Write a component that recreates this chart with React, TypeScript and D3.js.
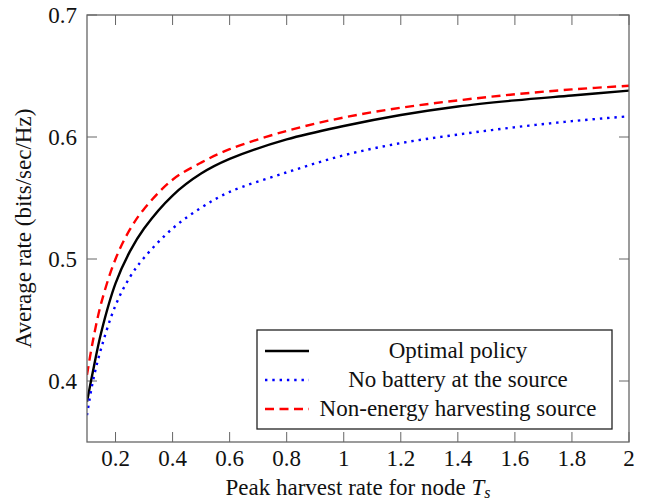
import React from 'react';
import * as d3 from 'd3';

const width = 646;
const height = 502;

const margin = { top: 15, right: 17, bottom: 60, left: 87 };

// x values (peak harvest rate T_s)
const xs = [0.1, 0.12, 0.15, 0.2, 0.25, 0.3, 0.4, 0.5, 0.6, 0.8, 1.0, 1.2, 1.4, 1.6, 1.8, 2.0];

// average rate for each policy
const optimal = [0.383, 0.407, 0.44, 0.48, 0.506, 0.525, 0.552, 0.570, 0.582, 0.598, 0.609, 0.618, 0.625, 0.630, 0.634, 0.638];
const noBattery = [0.372, 0.399, 0.427, 0.462, 0.485, 0.501, 0.525, 0.542, 0.555, 0.571, 0.585, 0.595, 0.602, 0.608, 0.613, 0.617];
const nonHarvest = [0.405, 0.432, 0.464, 0.5, 0.524, 0.541, 0.565, 0.579, 0.590, 0.605, 0.616, 0.624, 0.630, 0.635, 0.639, 0.642];

const xTicks = [0.2, 0.4, 0.6, 0.8, 1, 1.2, 1.4, 1.6, 1.8, 2];
const yTicks = [0.4, 0.5, 0.6, 0.7];

const seriesNames = ['Optimal policy', 'No battery at the source', 'Non-energy harvesting source'];

const font = "'Liberation Serif', 'DejaVu Serif', serif";

const App = () => {
  const x0 = margin.left;
  const x1 = width - margin.right;
  const y0 = height - margin.bottom;
  const y1 = margin.top;

  const xScale = d3.scaleLinear().domain([0.1, 2]).range([x0, x1]);
  const yScale = d3.scaleLinear().domain([0.35, 0.7]).range([y0, y1]);

  const line = d3
    .line<number>()
    .x((_, i) => xScale(xs[i]))
    .y(d => yScale(d))
    .curve(d3.curveCatmullRom.alpha(0.5));

  const series = [
    { name: seriesNames[0], values: optimal, color: '#000', dash: undefined, w: 2.4 },
    { name: seriesNames[1], values: noBattery, color: '#0000ff', dash: '2.4 4.9', w: 2.4 },
    { name: seriesNames[2], values: nonHarvest, color: '#ff0000', dash: '9 5.5', w: 2.4 }
  ];

  const tickLen = 10;
  const axisColor = '#666';

  // legend box
  const lg = { x: 257, y: 330, w: 355, h: 99 };
  const rowY = [351, 380, 409];

  const txt = { fontFamily: font, fill: '#111' };

  return (
    <svg
      width={width}
      height={height}
      style={{ position: 'absolute', left: 0, top: 0, background: '#fff', fontFamily: font }}
    >
      <defs>
        <clipPath id="plot">
          <rect x={x0} y={y1} width={x1 - x0} height={y0 - y1} />
        </clipPath>
      </defs>

      {/* ticks on all four sides, pointing in */}
      {xTicks.map(t => (
        <g key={'xt' + t} stroke={axisColor} strokeWidth={1}>
          <line x1={xScale(t)} x2={xScale(t)} y1={y0} y2={y0 - tickLen} />
          <line x1={xScale(t)} x2={xScale(t)} y1={y1} y2={y1 + tickLen} />
        </g>
      ))}
      {yTicks.map(t => (
        <g key={'yt' + t} stroke={axisColor} strokeWidth={1}>
          <line x1={x0} x2={x0 + tickLen} y1={yScale(t)} y2={yScale(t)} />
          <line x1={x1} x2={x1 - tickLen} y1={yScale(t)} y2={yScale(t)} />
        </g>
      ))}

      {/* curves */}
      <g clipPath="url(#plot)">
        {series.map(s => (
          <path
            key={s.name}
            d={line(s.values) || ''}
            fill="none"
            stroke={s.color}
            strokeWidth={s.w}
            strokeDasharray={s.dash}
          />
        ))}
      </g>

      {/* frame */}
      <rect x={x0} y={y1} width={x1 - x0} height={y0 - y1} fill="none" stroke={axisColor} strokeWidth={1.3} />

      {/* tick labels */}
      {xTicks.map(t => (
        <text key={'xl' + t} x={xScale(t)} y={466} textAnchor="middle" fontSize={23} style={txt}>
          {d3.format('~g')(t)}
        </text>
      ))}
      {yTicks.map(t => (
        <text key={'yl' + t} x={77} y={yScale(t) + 8} textAnchor="end" fontSize={23} style={txt}>
          {t.toFixed(1)}
        </text>
      ))}

      {/* axis labels */}
      <text x={(x0 + x1) / 2} y={495} textAnchor="middle" fontSize={23} style={txt}>
        Peak harvest rate for node <tspan fontStyle="italic">T</tspan>
        <tspan fontStyle="italic" fontSize={16} dy={3}>s</tspan>
      </text>
      <text
        transform={`translate(31, ${(y0 + y1) / 2}) rotate(-90)`}
        textAnchor="middle"
        fontSize={23}
        style={txt}
      >
        Average rate (bits/sec/Hz)
      </text>

      {/* legend */}
      <rect x={lg.x} y={lg.y} width={lg.w} height={lg.h} fill="#fff" stroke="#222" strokeWidth={1.3} />
      {series.map((s, i) => (
        <g key={'lg' + s.name}>
          <line
            x1={265}
            x2={309}
            y1={rowY[i]}
            y2={rowY[i]}
            stroke={s.color}
            strokeWidth={s.w}
            strokeDasharray={s.dash}
          />
          <text x={458} y={rowY[i] + 7} textAnchor="middle" fontSize={23} style={txt}>
            {s.name}
          </text>
        </g>
      ))}
    </svg>
  );
};

export default App;
